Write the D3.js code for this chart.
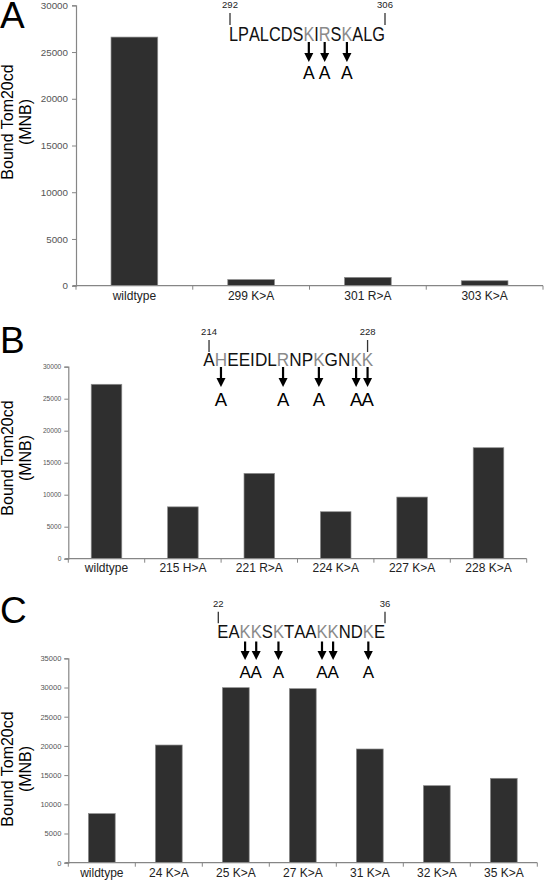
<!DOCTYPE html>
<html><head><meta charset="utf-8">
<script src="https://cdn.jsdelivr.net/npm/d3@7"></script>
<style>html,body{margin:0;padding:0;background:#fff;}svg{display:block;}</style>
</head><body>
<svg id="c" width="545" height="887"></svg>
<script>
// ---------- data ----------
const catsA = ["wildtype", "299 K>A", "301 R>A", "303 K>A"];
const valsA = [26600, 650, 890, 530];
const ticksA = [0, 5000, 10000, 15000, 20000, 25000, 30000];

const catsB = ["wildtype", "215 H>A", "221 R>A", "224 K>A", "227 K>A", "228 K>A"];
const valsB = [27250, 8100, 13330, 7340, 9630, 17340];
const ticksB = [0, 5000, 10000, 15000, 20000, 25000, 30000];

const catsC = ["wildtype", "24 K>A", "25 K>A", "27 K>A", "31 K>A", "32 K>A", "35 K>A"];
const valsC = [8400, 20150, 29970, 29800, 19470, 13190, 14450];
const ticksC = [0, 5000, 10000, 15000, 20000, 25000, 30000, 35000];

const seqA = "LPALCDSKIRSKALG", mutA = [7, 9, 11], rangeA = ["292", "306"];
const seqB = "AHEEIDLRNPKGNKK", mutB = [1, 7, 10, 13, 14], rangeB = ["214", "228"];
const seqC = "EAKKSKTAAKKNDKE", mutC = [2, 3, 5, 9, 10, 13], rangeC = ["22", "36"];

const yTitle = ["Bound Tom20cd", "(MNB)"];
const panelLetters = ["A", "B", "C"];

// ---------- drawing ----------
const svg = d3.select("#c");
const FONT = "'Liberation Sans', Arial, sans-serif";
const AXIS = "#868686";

function panel(o) {
  const g = svg.append("g");
  const x = d3.scaleBand().domain(o.cats).range([o.x0, o.x1]).paddingInner(0.6).paddingOuter(0.3);
  const y = d3.scaleLinear().domain([0, o.ticks[o.ticks.length - 1]]).range([o.yZero, o.yTop]);

  // bars
  g.selectAll("rect.bar").data(o.vals).join("rect")
    .attr("x", (d, i) => x(o.cats[i]))
    .attr("width", x.bandwidth())
    .attr("y", d => y(d))
    .attr("height", d => y(0) - y(d))
    .attr("fill", "#2f2f2f").attr("stroke", "#8c8c8c").attr("stroke-width", 0.7);

  // y axis
  const ya = g.append("g").attr("transform", `translate(${o.x0},0)`)
    .call(d3.axisLeft(y).tickValues(o.ticks).tickSize(4).tickPadding(o.tickPad).tickFormat(d3.format("d")));
  ya.select(".domain").attr("stroke", AXIS).attr("stroke-width", 1.2);
  ya.selectAll(".tick line").attr("stroke", AXIS);
  ya.selectAll(".tick text").attr("fill", "#555").style("font-family", FONT).style("font-size", o.tickFont + "px");

  // x axis: labels via band, ticks at boundaries
  const xa = g.append("g").attr("transform", `translate(0,${o.yZero})`)
    .call(d3.axisBottom(x).tickSize(0).tickPadding(o.labPad));
  xa.select(".domain").remove();
  xa.selectAll(".tick text").attr("fill", "#222").style("font-family", FONT).style("font-size", "12px");
  g.append("line").attr("x1", o.x0 - 3).attr("x2", o.x1).attr("y1", o.yZero).attr("y2", o.yZero)
    .attr("stroke", AXIS).attr("stroke-width", 1.2);
  const bounds = d3.range(o.cats.length + 1).map(i => o.x0 + i * (o.x1 - o.x0) / o.cats.length);
  g.selectAll("line.bt").data(bounds).join("line")
    .attr("x1", d => d).attr("x2", d => d).attr("y1", o.yZero).attr("y2", o.yZero + 4)
    .attr("stroke", AXIS);

  // y title
  const tg = g.append("text").attr("transform", `translate(${o.titleX},${o.titleY}) rotate(-90)`)
    .attr("text-anchor", "middle").style("font-family", FONT).style("font-size", "16px").attr("fill", "#000");
  tg.selectAll("tspan").data(yTitle).join("tspan").attr("x", 0).attr("y", (d, i) => i * 18).text(d => d);

  // panel letter
  g.append("text").attr("x", 0).attr("y", o.letterY).text(o.letter)
    .style("font-family", FONT).style("font-size", "37px").attr("fill", "#000");

  // sequence: measure natural widths, shrink font to fit span, stretch vertically to keep cap height
  const s = o.seq;
  const chars = s.text.split("");
  const meas = g.append("text").style("font-family", FONT).style("font-size", s.size + "px").attr("visibility", "hidden");
  const widths = chars.map(c => { meas.text(c); return meas.node().getComputedTextLength(); });
  meas.remove();
  const k = (s.x1 - s.x0) / d3.sum(widths);
  const lefts = []; let acc = s.x0;
  widths.forEach(w => { lefts.push(acc); acc += w * k; });
  const centers = widths.map((w, i) => lefts[i] + w * k / 2);
  g.selectAll("g.seq").data(chars).join("g")
    .attr("transform", (d, i) => `translate(${centers[i]},${s.base}) scale(1,${1 / k})`)
    .append("text").attr("x", 0).attr("y", 0).attr("text-anchor", "middle")
    .style("font-family", FONT).style("font-size", (s.size * k) + "px")
    .attr("fill", (d, i) => s.mut.includes(i) ? "#8a8a8a" : "#111").text(d => d);

  const n = chars.length;
  const tx0 = s.tickMode === "center" ? centers[0] : s.x0 + 1;
  const tx1 = s.tickMode === "center" ? centers[n - 1] : s.x1;
  [[tx0, s.range[0]], [tx1, s.range[1]]].forEach(([tx, lab]) => {
    g.append("line").attr("x1", tx).attr("x2", tx).attr("y1", s.tickY0).attr("y2", s.tickY1)
      .attr("stroke", "#333").attr("stroke-width", 1.3);
    g.append("text").attr("x", tx).attr("y", s.numBase).attr("text-anchor", "middle")
      .style("font-family", FONT).style("font-size", "9.5px").attr("fill", "#222").text(lab);
  });
  s.mut.forEach(i => {
    const cx = centers[i];
    g.append("line").attr("x1", cx).attr("x2", cx).attr("y1", s.arrY0).attr("y2", s.arrY1 - 8)
      .attr("stroke", "#000").attr("stroke-width", 2.2);
    g.append("path").attr("d", `M${cx - 4.5},${s.arrY1 - 9}L${cx + 4.5},${s.arrY1 - 9}L${cx},${s.arrY1}Z`).attr("fill", "#000");
    g.append("text").attr("x", cx).attr("y", s.aBase).attr("text-anchor", "middle")
      .style("font-family", FONT).style("font-size", s.aSize + "px").attr("fill", "#000").text("A");
  });
}

panel({cats: catsA, vals: valsA, ticks: ticksA, x0: 76, x1: 543, yZero: 285.7, yTop: 5.3,
  tickFont: 9.8, tickPad: 4, labPad: 6, titleX: 13, titleY: 122, letter: panelLetters[0], letterY: 28,
  seq: {text: seqA, mut: mutA, range: rangeA, x0: 229, x1: 385, base: 40.7, size: 19.5, tickMode: "edge",
    tickY0: 13, tickY1: 25, numBase: 7.5, arrY0: 42, arrY1: 62, aBase: 79, aSize: 17.5}});

panel({cats: catsB, vals: valsB, ticks: ticksB, x0: 68.3, x1: 526.7, yZero: 558.7, yTop: 366.7,
  tickFont: 6.6, tickPad: 3, labPad: 5, titleX: 13, titleY: 458, letter: panelLetters[1], letterY: 353,
  seq: {text: seqB, mut: mutB, range: rangeB, x0: 203.3, x1: 373.3, base: 365.5, size: 19, tickMode: "center",
    tickY0: 340, tickY1: 352, numBase: 335, arrY0: 367, arrY1: 387, aBase: 405.7, aSize: 18.5}});

panel({cats: catsC, vals: valsC, ticks: ticksC, x0: 68.3, x1: 537.3, yZero: 862.7, yTop: 658.3,
  tickFont: 7.5, tickPad: 3, labPad: 6, titleX: 13, titleY: 769, letter: panelLetters[2], letterY: 623,
  seq: {text: seqC, mut: mutC, range: rangeC, x0: 217.3, x1: 385, base: 638.3, size: 18.5, tickMode: "edge",
    tickY0: 611.7, tickY1: 623.3, numBase: 606.7, arrY0: 641.5, arrY1: 660, aBase: 678.3, aSize: 17}});
</script>
</body></html>
